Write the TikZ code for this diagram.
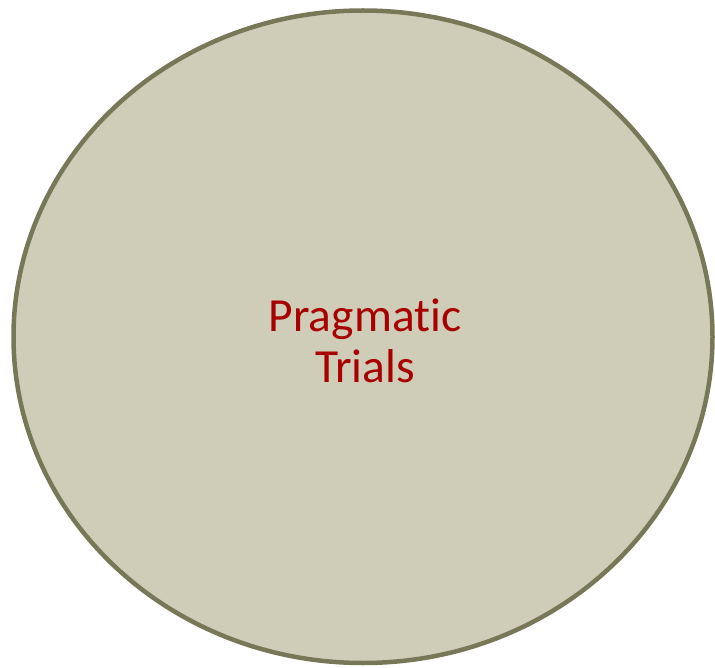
\documentclass[tikz,border=0pt]{standalone}
\usepackage{fontspec}
\setmainfont[Ligatures=NoCommon]{Carlito}
\definecolor{fillc}{RGB}{207,205,184}
\definecolor{edgec}{RGB}{120,120,88}
\definecolor{textc}{RGB}{168,0,0}
\begin{document}
\begin{tikzpicture}[x=1pt,y=-1pt,
  blob/.style={draw=edgec,fill=fillc,line width=4.5pt},
  lbl/.style={text=textc,font=\fontsize{47.5}{50}\selectfont,anchor=base,inner sep=0pt}]
\useasboundingbox (0,0) rectangle (715,668);
\draw[blob] (363,336.75) ellipse [x radius=349.5, y radius=326.25];
\node[lbl] (l1) at (365,332) {Pragmatic};
\node[lbl] (l2) at (365,382) {Trials};
\end{tikzpicture}
\end{document}
